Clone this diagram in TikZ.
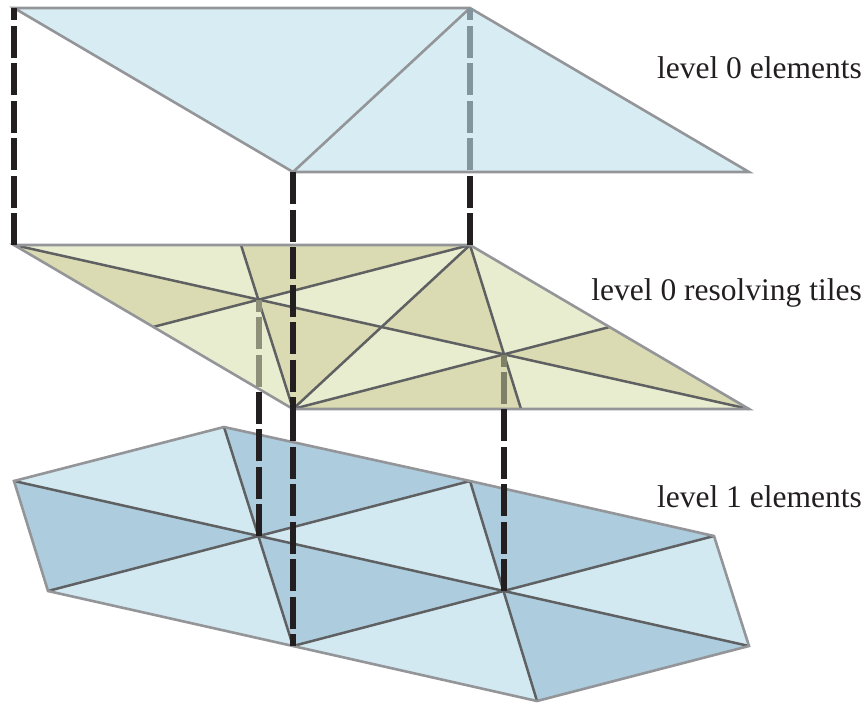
\documentclass[tikz,border=0pt]{standalone}
\usepackage{fontspec}
\setmainfont{Liberation Serif}
\definecolor{outergray}{HTML}{939598}
\definecolor{innergray}{HTML}{5F6062}
\definecolor{tieblack}{HTML}{231F20}
\definecolor{elemfill}{HTML}{D7EDF3}
\definecolor{tilelight}{HTML}{E9EDCF}
\definecolor{tiledark}{HTML}{DADBB2}
\definecolor{onelight}{HTML}{D2E9F1}
\definecolor{onedark}{HTML}{ADCDDE}
\definecolor{underelem}{HTML}{82959D}
\definecolor{undertile}{HTML}{8E9079}
\definecolor{undertiledark}{HTML}{7E8068}
\begin{document}
\begin{tikzpicture}[
    x=1pt, y=-1pt,
    outer/.style={draw=outergray, line width=2.6pt, line join=miter},
    inner/.style={draw=innergray, line width=2.5pt},
    tiedash/.style={line width=5.2pt, draw=tieblack, dash pattern=on 32pt off 5.5pt},
    hiddendash/.style={line width=5.2pt, dash pattern=on 32pt off 5.5pt, dash phase=#1},
    caption/.style={anchor=base east, inner sep=0pt, text=tieblack, font=\fontsize{31.5}{36}\selectfont}
]

\useasboundingbox (0,0) rectangle (868,702);

% Level 0 elements
\coordinate (ea) at (14,8);
\coordinate (eb) at (470,8);
\coordinate (ec) at (293,172);
\coordinate (ed) at (749,172);
\coordinate (ee) at (470,172);

% Level 0 resolving tiles
\coordinate (ta) at (14,245);
\coordinate (tb) at (470,245);
\coordinate (tc) at (293,409);
\coordinate (td) at (749,409);
\coordinate (tp) at (259,300);
\coordinate (tq) at (504,354.5);
\coordinate (tab) at (241,245);
\coordinate (tac) at (153,327);
\coordinate (tbc) at (381,327);
\coordinate (tbd) at (609.5,327);
\coordinate (tcd) at (521,409);
\coordinate (tpe) at (259,390);
\coordinate (tqe) at (504,409);

% Level 1 elements
\coordinate (la) at (14,481);
\coordinate (lb) at (224,427);
\coordinate (lc) at (470,481);
\coordinate (ld) at (714,536);
\coordinate (le) at (749,646);
\coordinate (lf) at (537,701);
\coordinate (lg) at (293,646);
\coordinate (lh) at (48,591);
\coordinate (lp) at (259,536);
\coordinate (lq) at (504,591);

% Fills
\fill[elemfill] (ea) -- (eb) -- (ed) -- (ec) -- cycle;
\foreach \a/\b/\c in {ta/tp/tab, tb/tp/tbc, tc/tp/tac, tc/tq/tbc, tb/tq/tbd, td/tq/tcd}
  \fill[tilelight] (\a) -- (\b) -- (\c) -- cycle;
\foreach \a/\b/\c in {ta/tp/tac, tb/tp/tab, tc/tp/tbc, tb/tq/tbc, td/tq/tbd, tc/tq/tcd}
  \fill[tiledark] (\a) -- (\b) -- (\c) -- cycle;
\foreach \a/\b/\c in {la/lb/lp, lh/lg/lp, lp/lc/lq, lg/lf/lq, lq/ld/le}
  \fill[onelight] (\a) -- (\b) -- (\c) -- cycle;
\foreach \a/\b/\c in {la/lh/lp, lb/lc/lp, lp/lg/lq, lc/ld/lq, lq/lf/le}
  \fill[onedark] (\a) -- (\b) -- (\c) -- cycle;

% Inner edges
\draw[inner] (tac) -- (tb);
\draw[inner] (ta) -- (td);
\draw[inner] (tc) -- (tbd);
\draw[inner] (tab) -- (tc);
\draw[inner] (tb) -- (tcd);
\draw[inner] (tb) -- (tc);
\draw[inner] (la) -- (le);
\draw[inner] (lh) -- (lc);
\draw[inner] (lg) -- (ld);
\draw[inner] (lb) -- (lg);
\draw[inner] (lc) -- (lf);

% Outlines
\draw[outer] (ea) -- (eb) -- (ed) -- (ec) -- cycle;
\draw[outer] (eb) -- (ec);
\draw[outer] (ta) -- (tb) -- (td) -- (tc) -- cycle;
\draw[outer] (la) -- (lb) -- (lc) -- (ld) -- (le) -- (lf) -- (lg) -- (lh) -- cycle;

% Dashed ties between the levels
\draw[tiedash] (ta) -- (ea);
\draw[tiedash] (tb) -- (ee);
\draw[tiedash] (ec) -- (tc);
\draw[tiedash] (tc) -- (lg);
\draw[tiedash] (lp) -- (tpe);
\draw[tiedash] (lq) -- (tqe);
\draw[hiddendash=35.5, draw=underelem] (ee) -- (eb);
\draw[hiddendash=34, draw=undertile] (tpe) -- (tp);
\draw[hiddendash=32.5, draw=undertiledark] (tqe) -- (tq);

% Captions
\node[caption] (cap0) at (862,78) {level 0 elements};
\node[caption] (capt) at (862,300) {level 0 resolving tiles};
\node[caption] (cap1) at (862,507) {level 1 elements};
\end{tikzpicture}
\end{document}
